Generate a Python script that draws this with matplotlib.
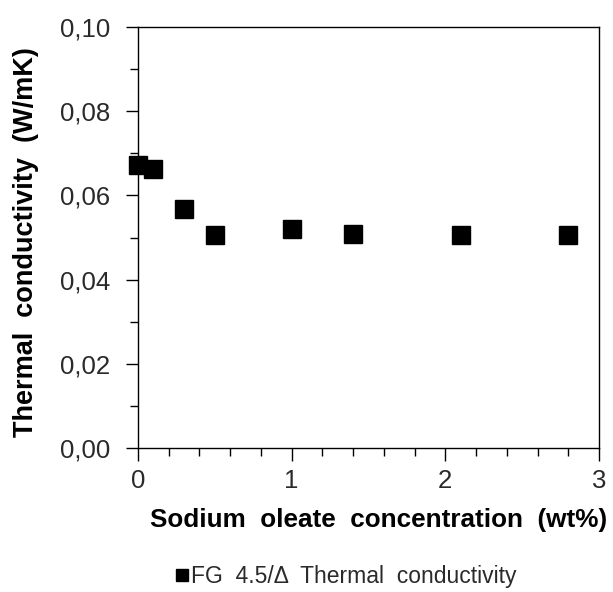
import matplotlib
matplotlib.use("Agg")
import matplotlib.pyplot as plt
from matplotlib.lines import Line2D
from matplotlib.ticker import MultipleLocator, FuncFormatter

# Sodium oleate concentration (wt%) and measured thermal conductivity (W/mK)
concentration = [0.0, 0.1, 0.3, 0.5, 1.0, 1.4, 2.1, 2.8]
conductivity = [0.0673, 0.0662, 0.0567, 0.0505, 0.0520, 0.0508, 0.0505, 0.0505]
conductivity_err = [0.0005, 0.0005, 0.0005, 0.0005, 0.0012, 0.0012, 0.0005, 0.0005]

series_label = "FG  4.5/\u0394  Thermal  conductivity"
x_label = "Sodium  oleate  concentration  (wt%)"
y_label = "Thermal  conductivity  (W/mK)"

plt.rcParams["font.family"] = ["Liberation Sans", "DejaVu Sans"]

fig = plt.figure(figsize=(6.13, 5.92), dpi=100)
ax = fig.add_axes([138 / 613, 1 - 448 / 592, (599 - 138) / 613, (448 - 27) / 592])

ax.errorbar(concentration, conductivity, yerr=conductivity_err, fmt="none",
            ecolor="black", elinewidth=0.8, capsize=3, capthick=0.8, zorder=2,
            clip_on=False)
ax.plot(concentration, conductivity, linestyle="none", marker="s",
        markersize=13, color="black", zorder=3, clip_on=False)

ax.set_xlim(0, 3)
ax.set_ylim(0, 0.10)
ax.xaxis.set_major_locator(MultipleLocator(1))
ax.xaxis.set_minor_locator(MultipleLocator(0.2))
ax.yaxis.set_major_locator(MultipleLocator(0.02))
ax.yaxis.set_minor_locator(MultipleLocator(0.01))
ax.yaxis.set_major_formatter(FuncFormatter(lambda v, p: f"{v:.2f}".replace(".", ",")))
ax.xaxis.set_major_formatter(FuncFormatter(lambda v, p: f"{v:.0f}"))

ax.tick_params(axis="both", which="major", direction="out", length=9, width=1.0,
               labelsize=18.5, colors="black", labelcolor="#2a2a2a")
ax.tick_params(axis="both", which="minor", direction="out", length=6, width=1.0)
ax.tick_params(axis="x", which="major", pad=6)
ax.tick_params(axis="y", which="major", pad=11)

for side in ax.spines.values():
    side.set_linewidth(1.0)
    side.set_color("black")

ax.set_xlabel(x_label, fontsize=18.8, fontweight="bold")
ax.set_ylabel(y_label, fontsize=19.5, fontweight="bold")
ax.xaxis.set_label_coords((378.5 - 138) / 461, (448 - 520) / 421)
ax.yaxis.set_label_coords((26 - 138) / 461, (448 - 242.5) / 421)
ax.xaxis.label.set_va("center")
ax.yaxis.label.set_va("center")

handle = Line2D([], [], linestyle="none", marker="s", markersize=9, color="black")
fig.legend([handle], [series_label], loc="center", bbox_to_anchor=(346.5 / 613, 1 - 577 / 592),
           frameon=False, fontsize=16.5, handlelength=0.5, handletextpad=0.15,
           labelcolor="#2a2a2a")

fig.savefig("out.png", dpi=100)
